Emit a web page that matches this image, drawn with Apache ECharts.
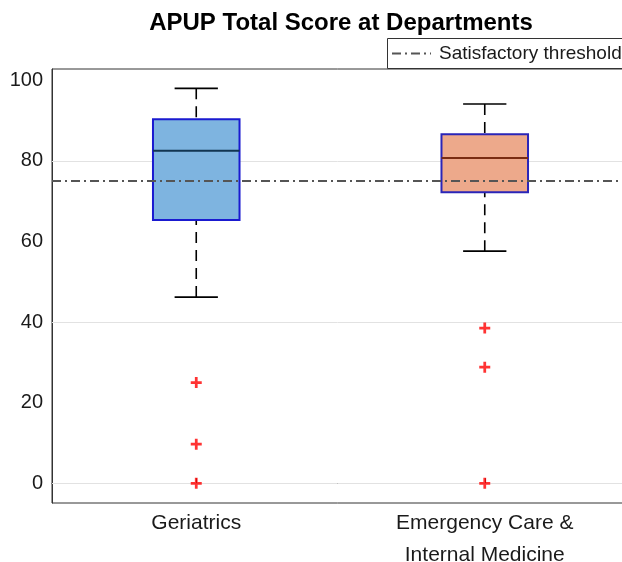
<!DOCTYPE html>
<html><head><meta charset="utf-8">
<script src="https://cdn.jsdelivr.net/npm/echarts/dist/echarts.min.js"></script>
<style>html,body{margin:0;padding:0;background:#fff}#c{width:622px;height:562px}</style>
</head><body><div id="c"></div>
<script>
const categories = ['Geriatrics', 'Emergency Care &\nInternal Medicine'];
// [lower whisker, Q1, median, Q3, upper whisker]
const geriatricsBox = [46.2, 65.3, 82.5, 90.3, 98.0];
const emergencyBox = [57.6, 72.2, 80.7, 86.6, 94.1];
const geriatricsOutliers = [25.0, 9.7, 0];
const emergencyOutliers = [38.5, 28.8, 0];
const threshold = 75;
const thresholdLabel = 'Satisfactory threshold';
const titleText = 'APUP Total Score at Departments';
const yTickLabels = [0, 20, 40, 60, 80, 100];
const gridValues = [0, 40, 80];

const boxStyles = [
  {fill: '#7EB4E0', stroke: '#1a1ad0', median: '#123552'},
  {fill: '#EDA98B', stroke: '#2a25b8', median: '#7a2c12'}
];
const FONT = '"Liberation Sans", Arial, Helvetica, sans-serif';

const boxData = [[0].concat(geriatricsBox), [1].concat(emergencyBox)];
const outlierData = [];
geriatricsOutliers.forEach(v => outlierData.push([0, v]));
emergencyOutliers.forEach(v => outlierData.push([1, v]));

function renderBox(params, api) {
  const idx = api.value(0);
  const vals = [1,2,3,4,5].map(d => api.value(d));
  const p = vals.map(v => api.coord([idx, v]));
  const cx = p[0][0];
  const bw = api.size([1, 0])[0] * 0.30;
  const cw = bw / 2;
  const st = boxStyles[params.dataIndex];
  const wl = {stroke: '#000', lineWidth: 1.6, lineDash: [11, 7]};
  return {
    type: 'group',
    children: [
      {type: 'line', shape: {x1: cx, y1: p[4][1], x2: cx, y2: p[3][1]}, style: wl},
      {type: 'line', shape: {x1: cx, y1: p[0][1], x2: cx, y2: p[1][1]}, style: wl},
      {type: 'line', shape: {x1: cx - cw/2, y1: p[4][1], x2: cx + cw/2, y2: p[4][1]}, style: {stroke: '#000', lineWidth: 1.6}},
      {type: 'line', shape: {x1: cx - cw/2, y1: p[0][1], x2: cx + cw/2, y2: p[0][1]}, style: {stroke: '#000', lineWidth: 1.6}},
      {type: 'rect', shape: {x: cx - bw/2, y: p[3][1], width: bw, height: p[1][1] - p[3][1]},
        style: {fill: st.fill, stroke: st.stroke, lineWidth: 2}},
      {type: 'line', shape: {x1: cx - bw/2, y1: p[2][1], x2: cx + bw/2, y2: p[2][1]}, style: {stroke: st.median, lineWidth: 2}}
    ]
  };
}

const chart = echarts.init(document.getElementById('c'), null, {renderer: 'canvas'});
chart.setOption({
  animation: false,
  backgroundColor: '#fff',
  title: {
    text: titleText, left: 341, top: 11, textAlign: 'center', padding: 0,
    textStyle: {fontFamily: FONT, fontSize: 24, fontWeight: 'bold', color: '#000'}
  },
  grid: {left: 52, top: 69, right: -7, bottom: 59, show: true, borderColor: '#333', borderWidth: 1,
    containLabel: false, outerBoundsMode: 'none'},
  xAxis: {
    type: 'category', data: categories, boundaryGap: true,
    axisLine: {lineStyle: {color: '#333', width: 1}},
    axisTick: {show: true, inside: true, alignWithLabel: true, length: 5, lineStyle: {color: '#333'}},
    axisLabel: {fontFamily: FONT, fontSize: 21, color: '#1a1a1a', lineHeight: 32, margin: 4}
  },
  yAxis: {
    type: 'value', min: -4.9, max: 102.8,
    axisLine: {show: true, lineStyle: {color: '#333', width: 1}},
    axisTick: {show: false},
    splitLine: {show: false},
    axisLabel: {
      fontFamily: FONT, fontSize: 20, color: '#1a1a1a', margin: 9,
      formatter: v => (yTickLabels.indexOf(v) >= 0 ? String(v) : '')
    }
  },
  series: [
    {
      type: 'line', data: [], silent: true, z: 1,
      markLine: {
        silent: true, z: 1, symbol: ['none', 'none'], label: {show: false},
        lineStyle: {color: '#e2e2e2', width: 1, type: 'solid'},
        data: gridValues.map(v => ({yAxis: v}))
      }
    },
    {
      type: 'custom', renderItem: renderBox, data: boxData, z: 3,
      encode: {x: 0, y: [1, 2, 3, 4, 5]}
    },
    {
      type: 'scatter', data: outlierData, z: 4,
      symbol: 'path://M3.75,0h2.5v3.75h3.75v2.5h-3.75v3.75h-2.5v-3.75h-3.75v-2.5h3.75z', symbolSize: 11,
      itemStyle: {color: '#ff0000'},
      markLine: {
        silent: true, z: 5, symbol: ['none', 'none'], label: {show: false},
        lineStyle: {color: '#555', width: 1.8, type: [9, 4, 2, 4]},
        data: [{yAxis: threshold}]
      }
    }
  ],
  graphic: [
    {type: 'rect', shape: {x: 387.5, y: 38.5, width: 300, height: 30}, style: {fill: '#fff', stroke: '#333', lineWidth: 1}, z: 10},
    {type: 'line', shape: {x1: 392, y1: 53.5, x2: 431, y2: 53.5}, style: {stroke: '#555', lineWidth: 1.8, lineDash: [9, 4, 2, 4]}, z: 11},
    {type: 'text', x: 439, y: 53.5, style: {text: thresholdLabel, fontFamily: FONT, fontSize: 19, fill: '#1a1a1a', textVerticalAlign: 'middle'}, z: 11}
  ]
});
</script></body></html>
